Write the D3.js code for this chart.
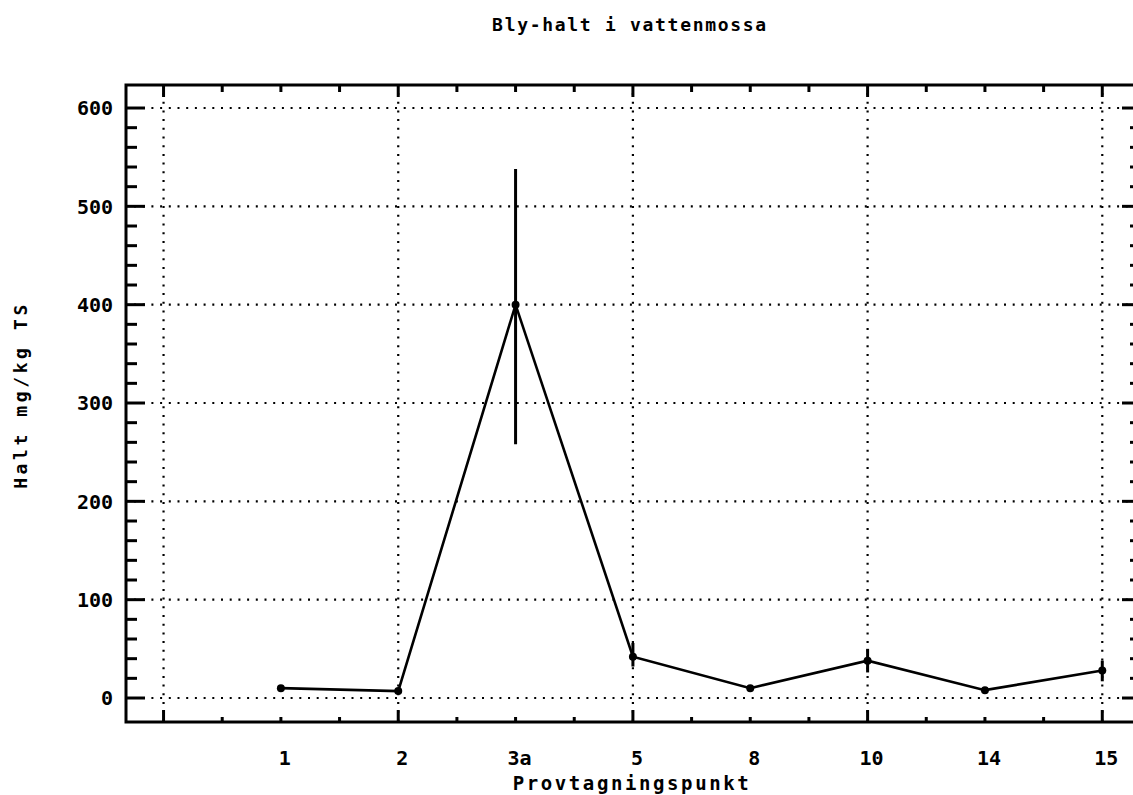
<!DOCTYPE html>
<html>
<head>
<meta charset="utf-8">
<script src="https://cdn.jsdelivr.net/npm/d3@7"></script>
<style>
	html, body { margin: 0; padding: 0; background: #fff; }
	svg { display: block; }
	text { font-family: 'DejaVu Sans Mono', 'Liberation Mono', monospace; font-weight: bold; fill: #000; }
</style>
</head>
<body>
<div id="chart"></div>
<script>
// sampling points along the x axis (first slot is empty)
const categories = ['', '1', '2', '3a', '5', '8', '10', '14', '15'];
// lead content, mg/kg TS
const values = [null, 10, 7, 400, 42, 10, 38, 8, 28];
const errLow = [null, null, null, 258, 32, null, 26, null, 17];
const errHigh = [null, null, null, 538, 56, null, 50, null, 38];
const yTicks = [0, 100, 200, 300, 400, 500, 600];

const width = 1133;
const height = 795;

const plotLeft = 126;
const plotRight = 1141;
const plotTop = 85;
const plotBottom = 722;

const svg = d3.select('#chart')
	.append('svg')
	.attr('width', width)
	.attr('height', height);

const x = d3.scaleLinear().domain([-0.32, 8.33]).range([plotLeft, plotRight]);
const y = d3.scaleLinear().domain([-24.4, 623.4]).range([plotBottom, plotTop]);

const minorY = d3.range(20, 600, 20).filter(d => d % 100 !== 0);
const majorX = d3.range(0, 9, 2);
const minorX = d3.range(0.5, 8.5, 0.5).filter(d => d % 2 !== 0);

// dotted grid
const grid = svg.append('g').attr('class', 'grid')
	.attr('stroke', '#000')
	.attr('stroke-width', 2.2)
	.attr('stroke-dasharray', '2,6.7');

grid.selectAll('line.h')
	.data(yTicks)
	.enter()
	.append('line')
	.attr('class', 'h')
	.attr('x1', plotLeft + 8).attr('x2', plotRight)
	.attr('y1', d => y(d)).attr('y2', d => y(d));

grid.selectAll('line.v')
	.data(majorX)
	.enter()
	.append('line')
	.attr('class', 'v')
	.attr('x1', d => x(d)).attr('x2', d => x(d))
	.attr('y1', plotTop + 8).attr('y2', plotBottom);

// frame
svg.append('rect')
	.attr('x', plotLeft).attr('y', plotTop)
	.attr('width', plotRight - plotLeft).attr('height', plotBottom - plotTop)
	.attr('fill', 'none')
	.attr('stroke', '#000')
	.attr('stroke-width', 3);

// ticks on all four sides
const ticks = svg.append('g').attr('class', 'ticks').attr('stroke', '#000').attr('stroke-width', 3);

function yTickLines(data, len, cls) {
	ticks.selectAll('line.l' + cls).data(data).enter().append('line')
		.attr('class', 'l' + cls)
		.attr('x1', plotLeft).attr('x2', plotLeft + len)
		.attr('y1', d => y(d)).attr('y2', d => y(d));
	ticks.selectAll('line.r' + cls).data(data).enter().append('line')
		.attr('class', 'r' + cls)
		.attr('x1', plotRight).attr('x2', plotRight - len)
		.attr('y1', d => y(d)).attr('y2', d => y(d));
}

function xTickLines(data, lenBottom, lenTop, cls) {
	ticks.selectAll('line.b' + cls).data(data).enter().append('line')
		.attr('class', 'b' + cls)
		.attr('x1', d => x(d)).attr('x2', d => x(d))
		.attr('y1', plotBottom).attr('y2', plotBottom - lenBottom);
	ticks.selectAll('line.t' + cls).data(data).enter().append('line')
		.attr('class', 't' + cls)
		.attr('x1', d => x(d)).attr('x2', d => x(d))
		.attr('y1', plotTop).attr('y2', plotTop + lenTop);
}

yTickLines(yTicks, 19, 'maj');
yTickLines(minorY, 11, 'min');
xTickLines(majorX, 12, 12, 'maj');
xTickLines(minorX, 5, 7, 'min');

// y tick labels
svg.append('g').selectAll('text')
	.data(yTicks)
	.enter()
	.append('text')
	.attr('x', 113)
	.attr('y', d => y(d))
	.attr('dy', '0.36em')
	.attr('text-anchor', 'end')
	.style('font-size', '20px')
	.text(d => d);

// x tick labels
svg.append('g').selectAll('text')
	.data(categories)
	.enter()
	.append('text')
	.attr('x', (d, i) => x(i) + 4)
	.attr('y', 765)
	.attr('text-anchor', 'middle')
	.style('font-size', '20px')
	.text(d => d);

// titles
svg.append('text')
	.attr('x', 630).attr('y', 31)
	.attr('text-anchor', 'middle')
	.style('font-size', '18px')
	.style('letter-spacing', '1.7px')
	.text('Bly-halt i vattenmossa');

svg.append('text')
	.attr('x', 632).attr('y', 790)
	.attr('text-anchor', 'middle')
	.style('font-size', '19px')
	.style('letter-spacing', '2.6px')
	.text('Provtagningspunkt');

svg.append('text')
	.attr('transform', 'translate(27,395) rotate(-90)')
	.attr('text-anchor', 'middle')
	.style('font-size', '18px')
	.style('letter-spacing', '3.6px')
	.text('Halt mg/kg TS');

// data
const pts = values.map((v, i) => ({ i: i, v: v, lo: errLow[i], hi: errHigh[i] })).filter(d => d.v !== null);

svg.append('g').selectAll('line')
	.data(pts.filter(d => d.lo !== null))
	.enter()
	.append('line')
	.attr('x1', d => x(d.i)).attr('x2', d => x(d.i))
	.attr('y1', d => y(d.lo)).attr('y2', d => y(d.hi))
	.attr('stroke', '#000')
	.attr('stroke-width', 3);

const line = d3.line().x(d => x(d.i)).y(d => y(d.v));

svg.append('path')
	.datum(pts)
	.attr('d', line)
	.attr('fill', 'none')
	.attr('stroke', '#000')
	.attr('stroke-width', 2.6);

svg.append('g').selectAll('circle')
	.data(pts)
	.enter()
	.append('circle')
	.attr('cx', d => x(d.i))
	.attr('cy', d => y(d.v))
	.attr('r', 4)
	.attr('fill', '#000');
</script>
</body>
</html>
